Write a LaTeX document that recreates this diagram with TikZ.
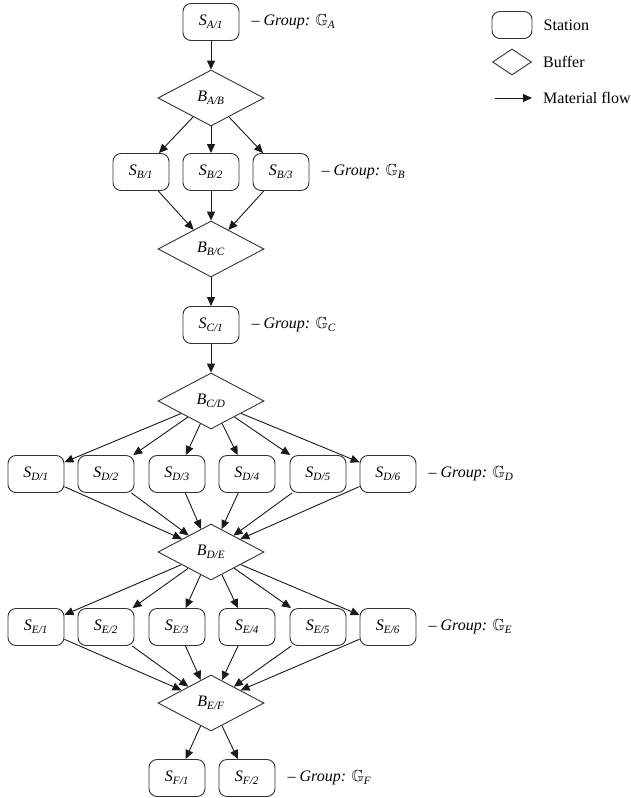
\documentclass[tikz,border=0pt]{standalone}
\usepackage{amssymb}
\usepackage{fontspec}
\setmainfont{Liberation Serif}
\usepackage{tikz}
\usetikzlibrary{arrows.meta,positioning,shapes.geometric}
\newcommand{\Stn}[1]{\textit{S}\textsubscript{\textit{#1}}}
\newcommand{\Buf}[1]{\textit{B}\textsubscript{\textit{#1}}}
\newcommand{\Grp}[1]{\textit{-- Group: }$\mathbb{G}$\textsubscript{\textit{#1}}}

\begin{document}
\begin{tikzpicture}[
  x=1pt, y=-1pt,
  font=\fontsize{16}{19}\selectfont,
  station/.style = {rectangle, rounded corners=8pt, draw=black!80, fill=white,
                    line width=0.9pt, minimum width=56pt, minimum height=37pt,
                    inner sep=2pt},
  buffer/.style  = {diamond, draw=black!80, fill=white, line width=0.9pt,
                    minimum width=106pt, minimum height=56pt, inner sep=0pt},
  flow/.style    = {-{Triangle[length=9pt,width=8pt]}, draw=black!90,
                    line width=0.9pt},
  grp/.style     = {inner sep=0pt, anchor=west}
]
\useasboundingbox (0,0) rectangle (631,798);

%%%%%%%%%%%%%%%%%%%%%%% LEGEND %%%%%%%%%%%%%%%%%%%%%%%%%%%%%%%%%%%%%%%%%%%%%%%
\node[station, minimum width=40pt, minimum height=27pt] (lstn) at (512,25) {};
\node[buffer, minimum width=39pt, minimum height=26pt] (lbuf) at (512,62) {};
\coordinate (lfa) at (495,98);
\coordinate (lfb) at (532,98);
\draw[flow] (lfa) -- (lfb);
\node[grp, right=11pt of lstn] {Station};
\node[grp, right=11pt of lbuf] {Buffer};
\node[grp, right=11pt of lfb] {Material flow};

%%%%%%%%%%%%%%%%%%%%%%% STATIONS AND BUFFERS %%%%%%%%%%%%%%%%%%%%%%%%%%%%%%%%%
\node[station] (sa1) at (211,22) {\Stn{A/1}};
\node[buffer]  (bab) at (211,98) {\Buf{A/B}};

\node[station] (sb1) at (141,172) {\Stn{B/1}};
\node[station] (sb2) at (211,172) {\Stn{B/2}};
\node[station] (sb3) at (281,172) {\Stn{B/3}};
\node[buffer]  (bbc) at (211,249) {\Buf{B/C}};

\node[station] (sc1) at (211,325) {\Stn{C/1}};
\node[buffer]  (bcd) at (211,401) {\Buf{C/D}};

\node[station] (sd1) at ( 36,474) {\Stn{D/1}};
\node[station] (sd2) at (106,474) {\Stn{D/2}};
\node[station] (sd3) at (177,474) {\Stn{D/3}};
\node[station] (sd4) at (247,474) {\Stn{D/4}};
\node[station] (sd5) at (318,474) {\Stn{D/5}};
\node[station] (sd6) at (388,474) {\Stn{D/6}};
\node[buffer]  (bde) at (211,552) {\Buf{D/E}};

\node[station] (se1) at ( 36,627) {\Stn{E/1}};
\node[station] (se2) at (106,627) {\Stn{E/2}};
\node[station] (se3) at (177,627) {\Stn{E/3}};
\node[station] (se4) at (247,627) {\Stn{E/4}};
\node[station] (se5) at (318,627) {\Stn{E/5}};
\node[station] (se6) at (388,627) {\Stn{E/6}};
\node[buffer]  (bef) at (211,703) {\Buf{E/F}};

\node[station] (sf1) at (177,778) {\Stn{F/1}};
\node[station] (sf2) at (247,778) {\Stn{F/2}};

%%%%%%%%%%%%%%%%%%%%%%% GROUP LABELS %%%%%%%%%%%%%%%%%%%%%%%%%%%%%%%%%%%%%%%%%
\node[grp, right=12pt of sa1] (ga) {\Grp{A}};
\node[grp, right=12pt of sb3] (gb) {\Grp{B}};
\node[grp, right=12pt of sc1] (gc) {\Grp{C}};
\node[grp, right=12pt of sd6] (gd) {\Grp{D}};
\node[grp, right=12pt of se6] (ge) {\Grp{E}};
\node[grp, right=12pt of sf2] (gf) {\Grp{F}};

%%%%%%%%%%%%%%%%%%%%%%% MATERIAL FLOW %%%%%%%%%%%%%%%%%%%%%%%%%%%%%%%%%%%%%%%%
\draw[flow] (sa1) -- (bab);
\draw[flow] (bab) -- (sb1);  \draw[flow] (bab) -- (sb2);  \draw[flow] (bab) -- (sb3);
\draw[flow] (sb1) -- (bbc);  \draw[flow] (sb2) -- (bbc);  \draw[flow] (sb3) -- (bbc);
\draw[flow] (bbc) -- (sc1);
\draw[flow] (sc1) -- (bcd);

\draw[flow] (bcd) -- (sd1);  \draw[flow] (bcd) -- (sd2);  \draw[flow] (bcd) -- (sd3);
\draw[flow] (bcd) -- (sd4);  \draw[flow] (bcd) -- (sd5);  \draw[flow] (bcd) -- (sd6);
\draw[flow] (sd1) -- (bde);  \draw[flow] (sd2) -- (bde);  \draw[flow] (sd3) -- (bde);
\draw[flow] (sd4) -- (bde);  \draw[flow] (sd5) -- (bde);  \draw[flow] (sd6) -- (bde);

\draw[flow] (bde) -- (se1);  \draw[flow] (bde) -- (se2);  \draw[flow] (bde) -- (se3);
\draw[flow] (bde) -- (se4);  \draw[flow] (bde) -- (se5);  \draw[flow] (bde) -- (se6);
\draw[flow] (se1) -- (bef);  \draw[flow] (se2) -- (bef);  \draw[flow] (se3) -- (bef);
\draw[flow] (se4) -- (bef);  \draw[flow] (se5) -- (bef);  \draw[flow] (se6) -- (bef);

\draw[flow] (bef) -- (sf1);  \draw[flow] (bef) -- (sf2);

\end{tikzpicture}
\end{document}
